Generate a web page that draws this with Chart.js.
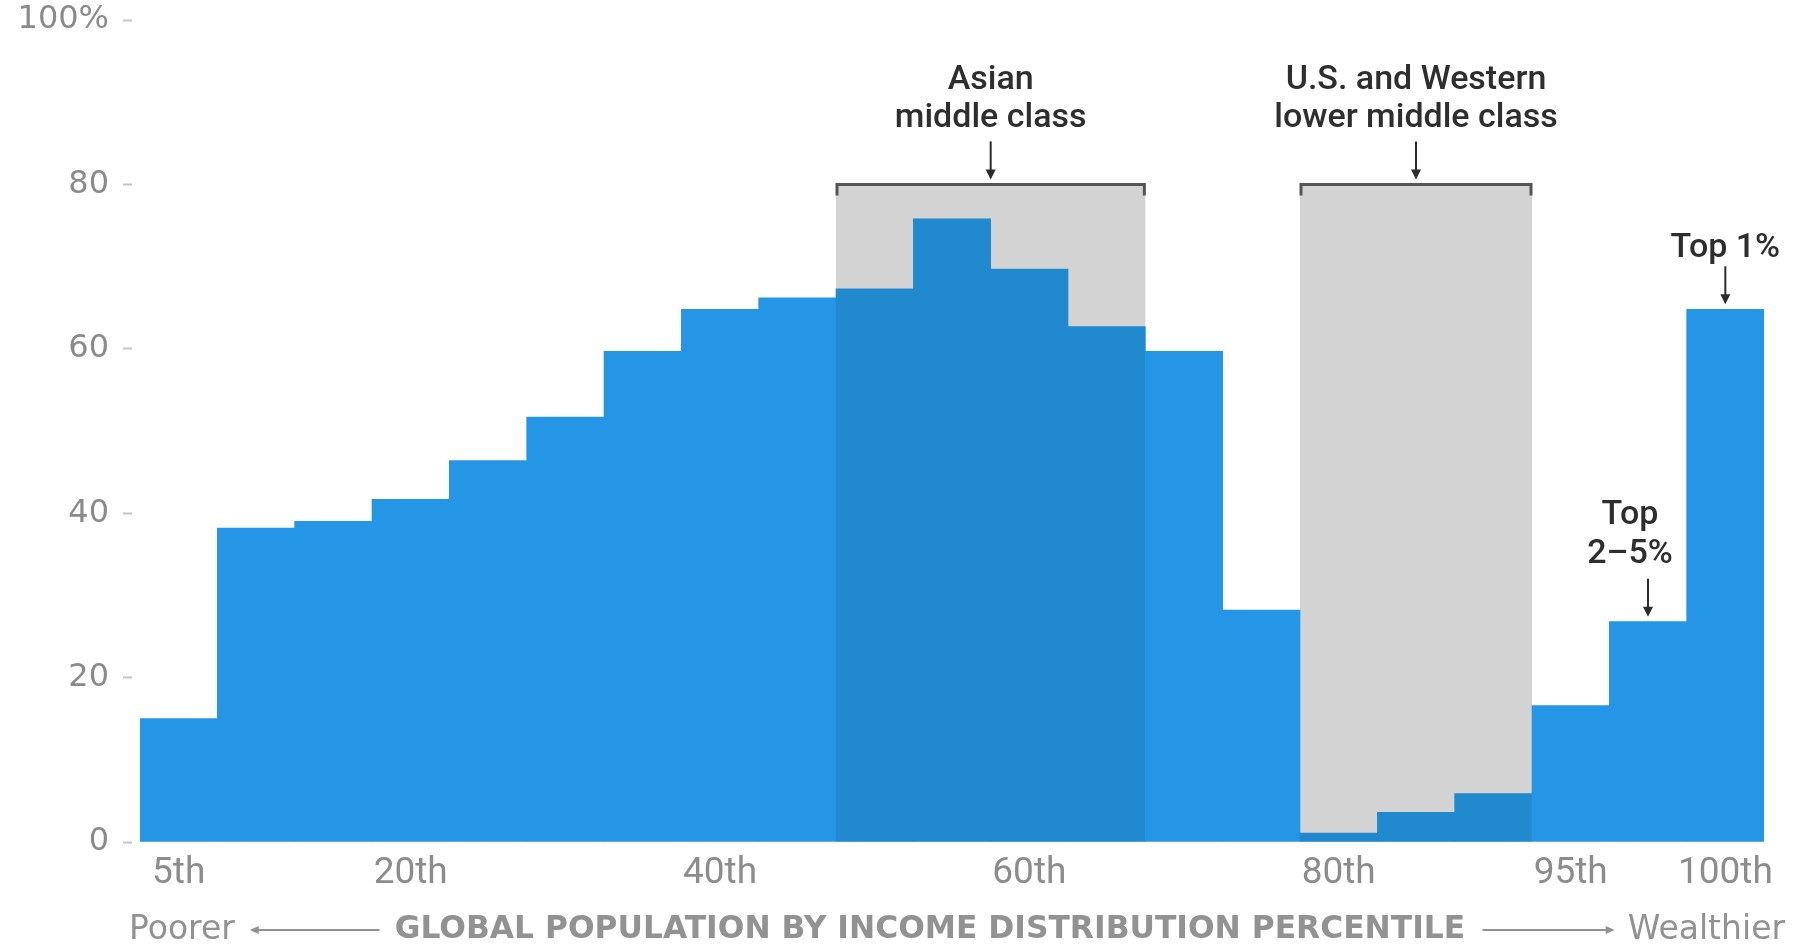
<!DOCTYPE html>
<html><head><meta charset="utf-8">
<script src="https://cdn.jsdelivr.net/npm/chart.js@4.4.1/dist/chart.umd.min.js"></script>
<style>html,body{margin:0;padding:0;background:#fff;overflow:hidden}#wrap{width:1802px;height:944px;position:relative}</style>
</head><body><div id="wrap"><canvas id="c" width="1802" height="944"></canvas></div>
<script>
// ---- data ----
const categories = ["5th","10th","15th","20th","25th","30th","35th","40th","45th","50th","55th","60th","65th","70th","75th","80th","85th","90th","95th","99th","100th"];
const tickLabels = ["5th","","","20th","","","","40th","","","","60th","","","","80th","","","95th","","100th"];
const growth = [15,38.2,39,41.7,46.4,51.7,59.7,64.8,66.2,67.3,75.8,69.7,62.7,59.7,28.2,1.1,3.6,5.9,16.6,26.8,64.8];
const yTicks = [0,20,40,60,80,100];
const groupNames = [["Asian","middle class"],["U.S. and Western","lower middle class"]];
const groupFirst = [9,15];
const groupLast = [12,17];
const groupCeiling = [80,80];
const calloutNames = [["Top","2–5%"],["Top 1%"]];
const calloutIndex = [19,20];
const axisNote = ["Poorer","GLOBAL POPULATION BY INCOME DISTRIBUTION PERCENTILE","Wealthier"];

// ---- styles ----
const BLUE = '#2595e5', BLUE_DARK = '#218ace', GRAY_BOX = '#d3d3d3';
const inGroup = i => groupFirst.some((f,g)=> i>=f && i<=groupLast[g]);
const barColors = growth.map((_,i)=> inGroup(i) ? BLUE_DARK : BLUE);

function arrowDown(ctx, x, y0, y1){
  ctx.save();
  ctx.strokeStyle='#2b2b2b'; ctx.fillStyle='#2b2b2b'; ctx.lineWidth=2;
  ctx.beginPath(); ctx.moveTo(x,y0); ctx.lineTo(x,y1-8); ctx.stroke();
  ctx.beginPath(); ctx.moveTo(x-5,y1-10); ctx.lineTo(x+5,y1-10); ctx.lineTo(x,y1); ctx.closePath(); ctx.fill();
  ctx.restore();
}
function textLines(ctx, lines, x, yLast, gap){
  ctx.save();
  ctx.font = '500 34px Roboto'; ctx.fillStyle='#2e2e2e';
  ctx.textAlign='center'; ctx.textBaseline='middle';
  lines.forEach((t,k)=> ctx.fillText(t, x, yLast - (lines.length-1-k)*gap));
  ctx.restore();
}

const boxesPlugin = {
  id:'boxes',
  beforeDatasetsDraw(chart){
    const {ctx, scales:{x,y}} = chart;
    const half = (x.getPixelForValue(1)-x.getPixelForValue(0))/2;
    ctx.save(); ctx.fillStyle = GRAY_BOX;
    groupFirst.forEach((f,g)=>{
      const x0 = x.getPixelForValue(f)-half, x1 = x.getPixelForValue(groupLast[g])+half;
      const y0 = y.getPixelForValue(groupCeiling[g]), y1 = y.getPixelForValue(0);
      ctx.fillRect(x0,y0,x1-x0,y1-y0);
    });
    ctx.restore();
  },
  afterDatasetsDraw(chart){
    const {ctx, scales:{x,y}, chartArea} = chart;
    const half = (x.getPixelForValue(1)-x.getPixelForValue(0))/2;
    groupFirst.forEach((f,g)=>{
      const x0 = x.getPixelForValue(f)-half, x1 = x.getPixelForValue(groupLast[g])+half;
      const yb = y.getPixelForValue(groupCeiling[g]);
      ctx.save(); ctx.strokeStyle='#555'; ctx.lineWidth=3;
      ctx.beginPath(); ctx.moveTo(x0+1,yb+11); ctx.lineTo(x0+1,yb); ctx.lineTo(x1-1,yb); ctx.lineTo(x1-1,yb+11); ctx.stroke();
      ctx.restore();
      const cx = (x0+x1)/2;
      arrowDown(ctx, cx, yb-43, yb-5);
      textLines(ctx, groupNames[g], cx, yb-66, 38);
    });
    calloutIndex.forEach((idx,c)=>{
      const cx = x.getPixelForValue(idx);
      const yt = y.getPixelForValue(growth[idx]);
      arrowDown(ctx, cx, yt-43, yt-5);
      const lines = calloutNames[c];
      textLines(ctx, lines, cx + (lines.length>1 ? -18 : 0), yt-(lines.length>1?67:61), 39);
    });
    const yc = 930;
    ctx.save();
    ctx.fillStyle='#929292'; ctx.strokeStyle='#929292'; ctx.textBaseline='middle';
    ctx.font='33px "DejaVu Sans"';
    ctx.textAlign='left';
    const leftX = chartArea.left - 11;
    ctx.fillText(axisNote[0], leftX, yc);
    const wL = ctx.measureText(axisNote[0]).width;
    ctx.textAlign='right';
    const rightX = chartArea.right + 21;
    ctx.fillText(axisNote[2], rightX, yc);
    const wR = ctx.measureText(axisNote[2]).width;
    ctx.font='bold 100px "DejaVu Sans"';
    const m = ctx.measureText(axisNote[1]).width;
    const size = 100*1071/m;
    ctx.font='bold '+size.toFixed(2)+'px "DejaVu Sans"';
    ctx.textAlign='center';
    const cxT = (chartArea.left+chartArea.right)/2 - 22;
    ctx.fillText(axisNote[1], cxT, yc);
    const cl = cxT-1071/2, cr = cxT+1071/2;
    ctx.lineWidth=2;
    const a0 = leftX+wL+15, a1 = cl-15;
    ctx.beginPath(); ctx.moveTo(a0+6,yc); ctx.lineTo(a1,yc); ctx.stroke();
    ctx.beginPath(); ctx.moveTo(a0,yc); ctx.lineTo(a0+9,yc-4); ctx.lineTo(a0+9,yc+4); ctx.closePath(); ctx.fill();
    const b0 = cr+17, b1 = rightX-wR-13;
    ctx.beginPath(); ctx.moveTo(b0,yc); ctx.lineTo(b1-6,yc); ctx.stroke();
    ctx.beginPath(); ctx.moveTo(b1,yc); ctx.lineTo(b1-9,yc-4); ctx.lineTo(b1-9,yc+4); ctx.closePath(); ctx.fill();
    ctx.restore();
  }
};

new Chart(document.getElementById('c'), {
  type:'bar',
  data:{ labels: categories, datasets:[{ data: growth, backgroundColor: barColors, borderWidth:0, categoryPercentage:1, barPercentage:1 }]},
  options:{
    responsive:false, animation:false, devicePixelRatio:1,
    layout:{ padding:{ top:20, right:38, left:0, bottom:0 } },
    plugins:{ legend:{display:false}, tooltip:{enabled:false} },
    scales:{
      x:{
        grid:{display:false}, border:{display:false},
        ticks:{ autoSkip:false, maxRotation:0, padding:2, color:'#8c8c8c', font:{family:'Roboto', size:37},
          callback:(v,i)=> tickLabels[i] },
        afterFit:s=>{ s.height = 102; s.paddingLeft = 0; s.paddingRight = 0; }
      },
      y:{
        min:0, max:100,
        afterBuildTicks:s=>{ s.ticks = yTicks.map(v=>({value:v})); },
        grid:{ display:true, drawOnChartArea:false, drawTicks:true, tickLength:17, tickColor:'#c4c4c4', tickWidth:2, tickBorderDash:[9,100] },
        border:{display:false},
        ticks:{ padding:14, color:'#8a8a8a', font:{family:'DejaVu Sans', size:32},
          callback:v=> v===100 ? '100%' : String(v) },
        afterFit:s=>{ s.width = 140; s.paddingTop = 0; s.paddingBottom = 0; }
      }
    }
  },
  plugins:[boxesPlugin]
});
</script></body></html>
